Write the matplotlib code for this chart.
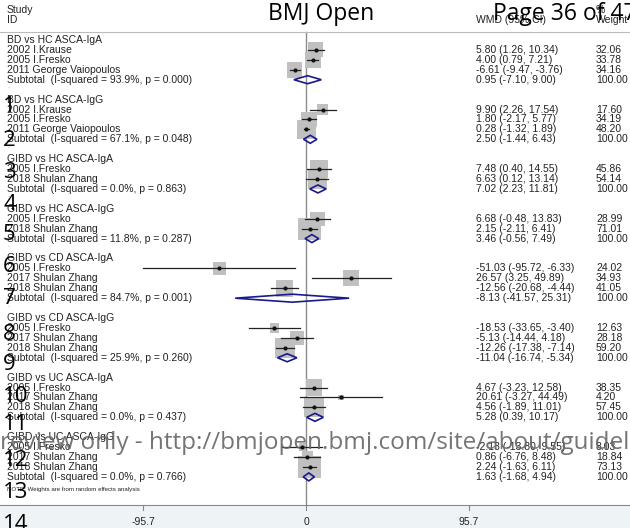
import matplotlib.pyplot as plt
import matplotlib.transforms as mtransforms
from matplotlib.patches import Polygon, Rectangle
import numpy as np

plt.rcParams["font.family"] = ["Liberation Sans", "DejaVu Sans"]

# subgroups of the meta-analysis
groups = ["BD vs HC ASCA-IgA", "BD vs HC ASCA-IgG", "GIBD vs HC ASCA-IgA", "GIBD vs HC ASCA-IgG",
          "GIBD vs CD ASCA-IgA", "GIBD vs CD ASCA-IgG", "GIBD vs UC ASCA-IgA", "GIBD vs UC ASCA-IgG"]

studies = [
    ["2002 I.Krause", "2005 I.Fresko", "2011 George Vaiopoulos"],
    ["2002 I.Krause", "2005 I.Fresko", "2011 George Vaiopoulos"],
    ["2005 I.Fresko", "2018 Shulan Zhang"],
    ["2005 I.Fresko", "2018 Shulan Zhang"],
    ["2005 I.Fresko", "2017 Shulan Zhang", "2018 Shulan Zhang"],
    ["2005 I.Fresko", "2017 Shulan Zhang", "2018 Shulan Zhang"],
    ["2005 I.Fresko", "2017 Shulan Zhang", "2018 Shulan Zhang"],
    ["2005 I.Fresko", "2017 Shulan Zhang", "2018 Shulan Zhang"],
]

wmd = [[5.80, 4.00, -6.61], [9.90, 1.80, 0.28], [7.48, 6.63], [6.68, 2.15],
       [-51.03, 26.57, -12.56], [-18.53, -5.13, -12.26], [4.67, 20.61, 4.56], [-2.13, 0.86, 2.24]]
ci_lo = [[1.26, 0.79, -9.47], [2.26, -2.17, -1.32], [0.40, 0.12], [-0.48, -2.11],
         [-95.72, 3.25, -20.68], [-33.65, -14.44, -17.38], [-3.23, -3.27, -1.89], [-13.80, -6.76, -1.63]]
ci_hi = [[10.34, 7.21, -3.76], [17.54, 5.77, 1.89], [14.55, 13.14], [13.83, 6.41],
         [-6.33, 49.89, -4.44], [-3.40, 4.18, -7.14], [12.58, 44.49, 11.01], [9.55, 8.48, 6.11]]
weight = [[32.06, 33.78, 34.16], [17.60, 34.19, 48.20], [45.86, 54.14], [28.99, 71.01],
          [24.02, 34.93, 41.05], [12.63, 28.18, 59.20], [38.35, 4.20, 57.45], [8.03, 18.84, 73.13]]

sub_wmd = [0.95, 2.50, 7.02, 3.46, -8.13, -11.04, 5.28, 1.63]
sub_lo = [-7.10, -1.44, 2.23, -0.56, -41.57, -16.74, 0.39, -1.68]
sub_hi = [9.00, 6.43, 11.81, 7.49, 25.31, -5.34, 10.17, 4.94]
i_squared = [93.9, 67.1, 0.0, 11.8, 84.7, 25.9, 0.0, 0.0]
p_het = [0.000, 0.048, 0.863, 0.287, 0.001, 0.260, 0.437, 0.766]

xticks = [-95.7, 0, 95.7]

W, H = 630, 528
fig = plt.figure(figsize=(W / 100, H / 100), dpi=100)
ax = fig.add_axes([0, 0, 1, 1])
zero_px, px_per_unit = 306, 163 / 95.7
ax.set_xlim(-zero_px / px_per_unit, (W - zero_px) / px_per_unit)
ax.set_ylim(H, 0)
ax.axis("off")

tr = mtransforms.blended_transform_factory(ax.transAxes, ax.transData)
fs = 7.5
txt = "#222222"
navy = "#1a1a8c"


def row_y(r):
    return 40 + 9.93 * r


def colx(px):
    return px / W


# header
ax.text(colx(7), 10, "Study", fontsize=fs, va="center", transform=tr, color=txt)
ax.text(colx(7), 20, "ID", fontsize=fs, va="center", transform=tr, color=txt)
ax.text(colx(476), 20, "WMD (95% CI)", fontsize=fs, va="center", transform=tr, color=txt)
ax.text(colx(596), 10, "%", fontsize=fs, va="center", transform=tr, color=txt)
ax.text(colx(596), 20, "Weight", fontsize=fs, va="center", transform=tr, color=txt)
ax.plot([0, 1], [32, 32], color="#bbbbbb", lw=0.8, transform=tr)

# bottom axis band
ax.add_patch(Rectangle((0, 505), 1, H - 505, transform=tr, facecolor="#eef3f6", edgecolor="none"))
ax.plot([0, 1], [505, 505], color="#888888", lw=0.8, transform=tr)
for t in xticks:
    ax.plot([t, t], [505, 510], color="#888888", lw=0.8)
    ax.text(t, 522, f"{t:g}", fontsize=fs, ha="center", va="center", color=txt)

ax.plot([0, 0], [32, 505], color="#8c8c8c", lw=1.0, zorder=1)

row = 0
for g in range(len(groups)):
    ax.text(colx(7), row_y(row), groups[g], fontsize=fs, va="center", transform=tr, color=txt)
    row += 1
    for k in range(len(studies[g])):
        y = row_y(row)
        ax.text(colx(7), y, studies[g][k], fontsize=fs, va="center", transform=tr, color=txt)
        side = 2.65 * np.sqrt(weight[g][k]) * 0.72
        ax.scatter([wmd[g][k]], [y], marker="s", s=side ** 2, color="#c0c0c0", edgecolors="none", zorder=2)
        ax.plot([ci_lo[g][k], ci_hi[g][k]], [y, y], color="#222222", lw=0.9, zorder=3)
        ax.plot([wmd[g][k]], [y], "o", color="#111111", markersize=2, zorder=4)
        ax.text(colx(476), y, f"{wmd[g][k]:.2f} ({ci_lo[g][k]:.2f}, {ci_hi[g][k]:.2f})",
                fontsize=fs, va="center", transform=tr, color=txt)
        ax.text(colx(596), y, f"{weight[g][k]:.2f}", fontsize=fs, va="center", transform=tr, color=txt)
        row += 1
    y = row_y(row)
    ax.text(colx(7), y, f"Subtotal  (I-squared = {i_squared[g]:.1f}%, p = {p_het[g]:.3f})",
            fontsize=fs, va="center", transform=tr, color=txt)
    dh = 4.0
    ax.add_patch(Polygon([[sub_lo[g], y], [sub_wmd[g], y - dh], [sub_hi[g], y], [sub_wmd[g], y + dh]],
                         closed=True, fill=False, edgecolor=navy, lw=1.2, zorder=3))
    ax.text(colx(476), y, f"{sub_wmd[g]:.2f} ({sub_lo[g]:.2f}, {sub_hi[g]:.2f})",
            fontsize=fs, va="center", transform=tr, color=txt)
    ax.text(colx(596), y, "100.00", fontsize=fs, va="center", transform=tr, color=txt)
    if g < len(groups) - 1:
        # spacer row between subgroups
        ax.text(colx(7), row_y(row + 1) - 3, ".", fontsize=5, va="center", transform=tr, color="#999999")
    row += 2

ax.text(colx(7), row_y(row - 1) + 3, "NOTE: Weights are from random effects analysis",
        fontsize=4.4, va="center", transform=tr, color=txt)

# page furniture
ax.text(colx(268), 14, "BMJ Open", fontsize=16.5, va="center", transform=tr, family="Open Sans", color="black")
ax.text(colx(493), 14, "Page 36 of 47", fontsize=16.5, va="center", transform=tr, family="Open Sans", color="black")
line_nums = [107, 141, 172, 205, 235, 267, 298, 334, 365, 396, 425, 460, 492, 525]
for n, yy in enumerate(line_nums, start=1):
    ax.text(colx(3), yy, str(n), fontsize=16, va="center", transform=tr, family="Open Sans", color="black")
ax.text(colx(0), 443, "review only - http://bmjopen.bmj.com/site/about/guidelines.xhtml", fontsize=17.5,
        va="center", transform=tr, family="Open Sans", color="#666666", alpha=0.9)

fig.savefig("out.png", dpi=100)
